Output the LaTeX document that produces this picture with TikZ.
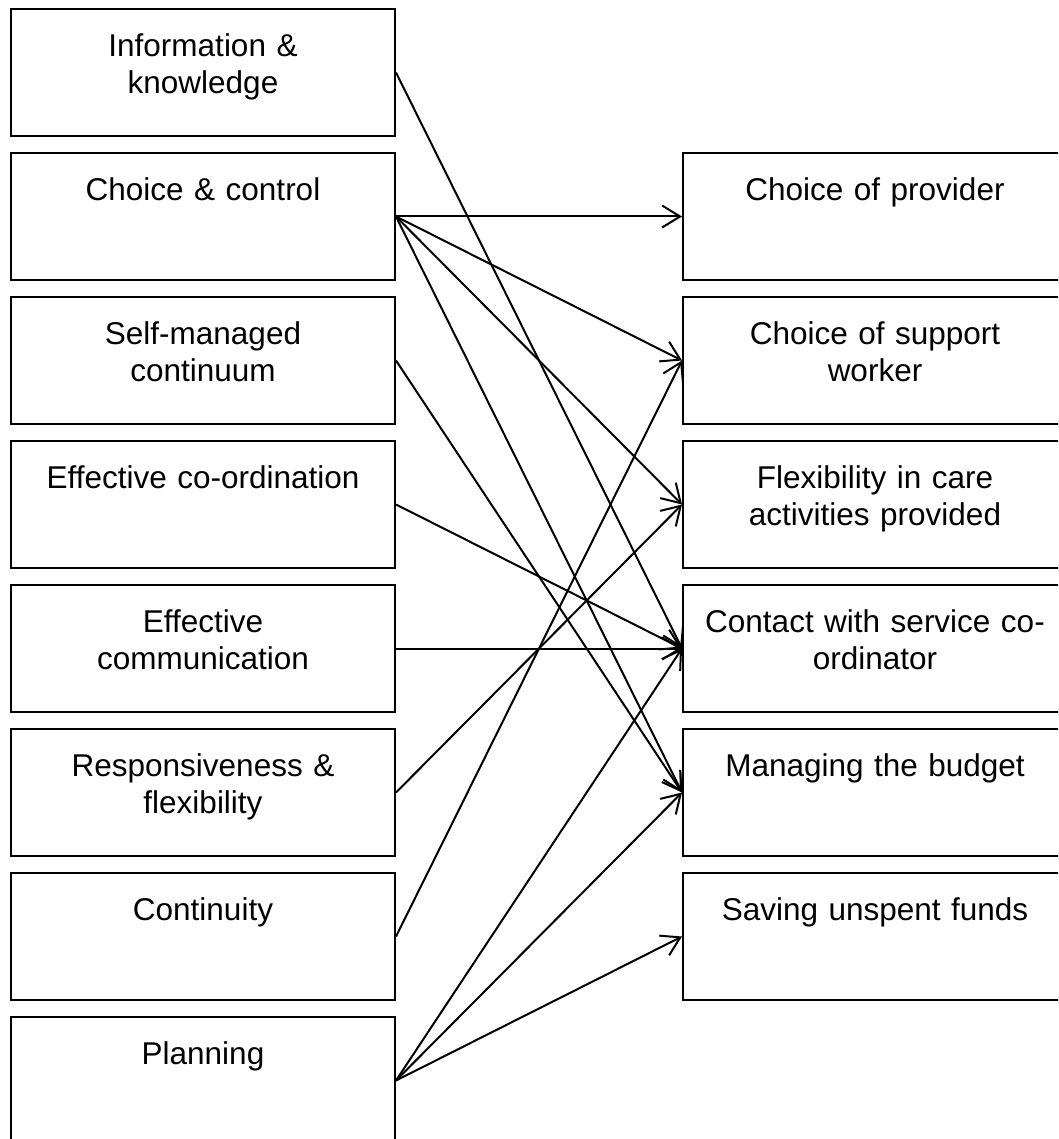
\documentclass[tikz,border=0pt]{standalone}
\usepackage{fontspec}
\setmainfont{Liberation Sans}
\usetikzlibrary{arrows.meta}
\tikzset{
  box/.style={draw, line width=2pt, minimum width=384pt, minimum height=127pt, inner sep=0pt, anchor=north west},
  txt/.style={anchor=north, text width=372pt, align=center, text height=24pt, inner sep=0pt, font=\fontsize{31.5}{37}\selectfont},
  arr/.style={line width=2pt, -{Straight Barb[length=18pt,width=22pt]}}
}
\begin{document}
\begin{tikzpicture}[x=1pt,y=-1pt]
\useasboundingbox (0,0) rectangle (1058,1139);
\clip (0,0) rectangle (1058,1139);
% left column
\node[box] (l1) at (10,8) {};
\node[box] (l2) at (10,152) {};
\node[box] (l3) at (10,296) {};
\node[box] (l4) at (10,440) {};
\node[box] (l5) at (10,584) {};
\node[box] (l6) at (10,728) {};
\node[box] (l7) at (10,872) {};
\node[box] (l8) at (10,1016) {};
% right column
\node[box] (r1) at (682,152) {};
\node[box] (r2) at (682,296) {};
\node[box] (r3) at (682,440) {};
\node[box] (r4) at (682,584) {};
\node[box] (r5) at (682,728) {};
\node[box] (r6) at (682,872) {};
% texts
\node[txt] (tl1) at ([yshift=-24pt]l1.north) {Information \&\\knowledge};
\node[txt] (tl2) at ([yshift=-24pt]l2.north) {Choice \& control};
\node[txt] (tl3) at ([yshift=-24pt]l3.north) {Self-managed\\continuum};
\node[txt] (tl4) at ([yshift=-24pt]l4.north) {Effective co-ordination};
\node[txt] (tl5) at ([yshift=-24pt]l5.north) {Effective\\communication};
\node[txt] (tl6) at ([yshift=-24pt]l6.north) {Responsiveness \&\\flexibility};
\node[txt] (tl7) at ([yshift=-24pt]l7.north) {Continuity};
\node[txt] (tl8) at ([yshift=-24pt]l8.north) {Planning};
\node[txt] (tr1) at ([yshift=-24pt]r1.north) {Choice of provider};
\node[txt] (tr2) at ([yshift=-24pt]r2.north) {Choice of support\\worker};
\node[txt] (tr3) at ([yshift=-24pt]r3.north) {Flexibility in care\\activities provided};
\node[txt] (tr4) at ([yshift=-24pt]r4.north) {Contact with service co-\\ordinator};
\node[txt] (tr5) at ([yshift=-24pt]r5.north) {Managing the budget};
\node[txt] (tr6) at ([yshift=-24pt]r6.north) {Saving unspent funds};
% connectors
\draw[arr] (l1.east) -- (r4.west);
\draw[arr] (l2.east) -- (r1.west);
\draw[arr] (l2.east) -- (r2.west);
\draw[arr] (l2.east) -- (r3.west);
\draw[arr] (l2.east) -- (r5.west);
\draw[arr] (l3.east) -- (r5.west);
\draw[arr] (l4.east) -- (r4.west);
\draw[arr] (l5.east) -- (r4.west);
\draw[arr] (l6.east) -- (r3.west);
\draw[arr] (l7.east) -- (r2.west);
\draw[arr] (l8.east) -- (r4.west);
\draw[arr] (l8.east) -- (r5.west);
\draw[arr] (l8.east) -- (r6.west);
\end{tikzpicture}
\end{document}
